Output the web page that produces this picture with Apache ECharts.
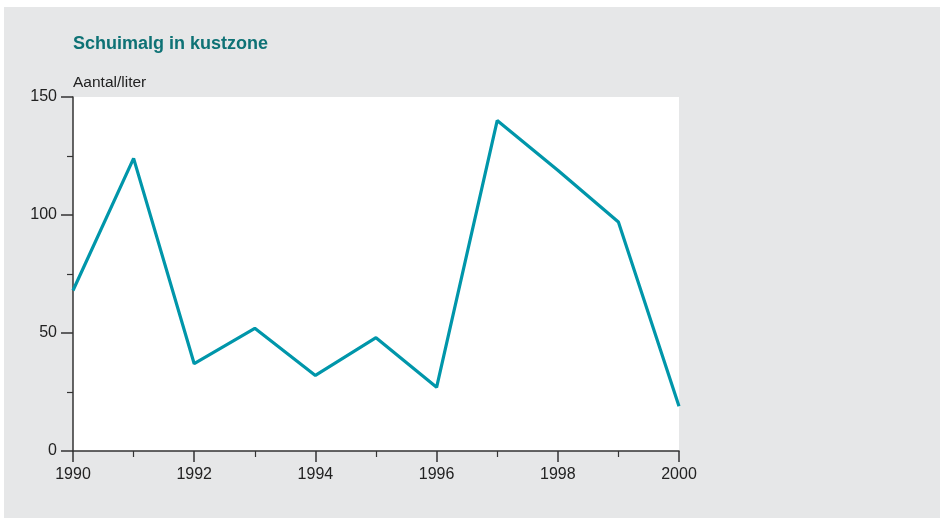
<!DOCTYPE html>
<html>
<head>
<meta charset="utf-8">
<script src="https://cdn.jsdelivr.net/npm/echarts@6/dist/echarts.min.js"></script>
<style>
html,body{margin:0;padding:0;background:#fff;width:940px;height:518px;overflow:hidden;}
#c{position:absolute;left:4px;top:7px;width:936px;height:511px;}
</style>
</head>
<body>
<div id="c"></div>
<script>
const years = [1990,1991,1992,1993,1994,1995,1996,1997,1998,1999,2000];
const values = [68,124,37,52,32,48,27,140,119,97,19];
const titleText = 'Schuimalg in kustzone';
const unitText = 'Aantal/liter';

const FONT = '"Liberation Sans Narrow","Arial Narrow","Liberation Sans",sans-serif';
const chart = echarts.init(document.getElementById('c'), null, {renderer:'canvas'});
chart.setOption({
  backgroundColor:'#e6e7e8',
  animation:false,
  title:[
    {text:titleText,left:69,top:28,textStyle:{fontFamily:FONT,fontWeight:'bold',fontSize:18,color:'#0e7275'},padding:0},
    {text:unitText,left:69,top:68,textStyle:{fontFamily:FONT,fontWeight:'normal',fontSize:15.5,color:'#222'},padding:0}
  ],
  grid:{left:69,top:90,width:606,height:354,show:true,backgroundColor:'#ffffff',borderWidth:0,containLabel:false},
  xAxis:{
    type:'value',min:1990,max:2000,interval:2,
    axisLine:{show:true,lineStyle:{color:'#333',width:1.5}},
    axisTick:{show:true,length:11,lineStyle:{color:'#333',width:1.5}},
    minorTick:{show:true,splitNumber:2,length:6,lineStyle:{color:'#333',width:1.2}},
    splitLine:{show:false},
    axisLabel:{margin:16,fontFamily:FONT,fontSize:16,color:'#222',formatter:v=>String(v)}
  },
  yAxis:{
    type:'value',min:0,max:150,interval:50,
    axisLine:{show:true,lineStyle:{color:'#333',width:1.5}},
    axisTick:{show:true,length:12,lineStyle:{color:'#333',width:1.5}},
    minorTick:{show:true,splitNumber:2,length:6,lineStyle:{color:'#333',width:1.2}},
    splitLine:{show:false},
    axisLabel:{margin:16,fontFamily:FONT,fontSize:16,color:'#222'}
  },
  series:[{
    type:'line',
    data:years.map((y,i)=>[y,values[i]]),
    showSymbol:false,
    lineStyle:{color:'#0096aa',width:3.2},
    itemStyle:{color:'#0096aa'}
  }]
});
</script>
</body>
</html>
